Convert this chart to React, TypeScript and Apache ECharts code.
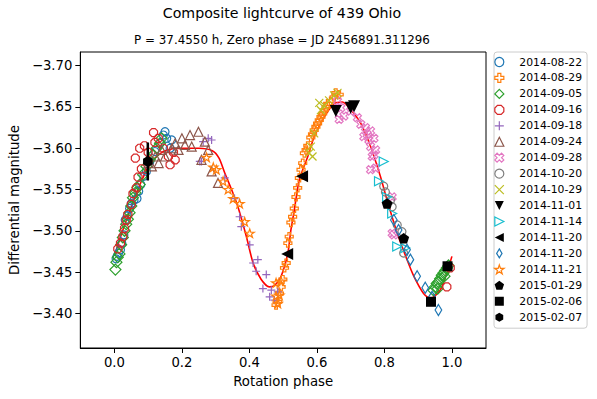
import { useEffect, useRef } from "react";
import * as echarts from "echarts";

const xTicks = [0, 0.2, 0.4, 0.6, 0.8, 1.0];
const yTicks = [-3.7, -3.65, -3.6, -3.55, -3.5, -3.45, -3.4];

const fitPhase = [0, 0.02, 0.04, 0.06, 0.08, 0.1, 0.12, 0.15, 0.2, 0.25, 0.29, 0.31, 0.327, 0.35, 0.366, 0.391, 0.411, 0.435, 0.459, 0.475, 0.494, 0.514, 0.523, 0.533, 0.548, 0.573, 0.592, 0.622, 0.651, 0.676, 0.7, 0.73, 0.759, 0.788, 0.808, 0.838, 0.867, 0.887, 0.916, 0.936, 0.965, 0.985, 1.0];
const fitMag = [-3.47, -3.495, -3.518, -3.54, -3.56, -3.577, -3.588, -3.597, -3.6, -3.6, -3.597, -3.588, -3.57, -3.547, -3.529, -3.493, -3.461, -3.441, -3.432, -3.434, -3.445, -3.473, -3.501, -3.525, -3.562, -3.59, -3.614, -3.638, -3.654, -3.656, -3.647, -3.63, -3.602, -3.566, -3.537, -3.497, -3.465, -3.445, -3.424, -3.418, -3.428, -3.449, -3.469];

const d0822 = [[0.005, -3.466], [0.008, -3.469], [0.012, -3.473], [0.018, -3.477], [0.022, -3.485], [0.028, -3.495], [0.032, -3.513], [0.038, -3.518], [0.045, -3.527], [0.05, -3.533], [0.058, -3.537], [0.067, -3.539], [0.072, -3.548], [0.078, -3.556], [0.087, -3.566], [0.095, -3.572], [0.105, -3.584], [0.12, -3.596], [0.135, -3.606], [0.145, -3.616], [0.15, -3.62], [0.155, -3.612], [0.17, -3.61], [0.165, -3.6]];
const d0829 = [[0.479, -3.41], [0.484, -3.414], [0.489, -3.424], [0.494, -3.432], [0.499, -3.441], [0.504, -3.455], [0.509, -3.461], [0.514, -3.485], [0.518, -3.493], [0.523, -3.51], [0.528, -3.517], [0.533, -3.527], [0.538, -3.541], [0.543, -3.552], [0.548, -3.564], [0.553, -3.574], [0.558, -3.582], [0.563, -3.594], [0.568, -3.598], [0.573, -3.603], [0.582, -3.613], [0.587, -3.617], [0.592, -3.622], [0.597, -3.626], [0.602, -3.63], [0.607, -3.634], [0.612, -3.638], [0.617, -3.642], [0.622, -3.646], [0.627, -3.65], [0.632, -3.654], [0.641, -3.657], [0.651, -3.662], [0.656, -3.667], [0.666, -3.665]];
const d0905 = [[0.003, -3.453], [0.006, -3.462], [0.01, -3.468], [0.015, -3.472], [0.02, -3.483], [0.025, -3.492], [0.03, -3.5], [0.035, -3.508], [0.04, -3.514], [0.045, -3.522], [0.05, -3.53], [0.055, -3.54], [0.062, -3.546], [0.068, -3.552], [0.075, -3.556], [0.085, -3.568], [0.095, -3.578], [0.105, -3.586], [0.115, -3.592], [0.125, -3.6], [0.135, -3.606], [0.14, -3.612], [0.945, -3.428], [0.95, -3.432], [0.955, -3.436], [0.96, -3.438], [0.965, -3.442], [0.97, -3.446], [0.975, -3.449], [0.98, -3.452], [0.985, -3.455], [0.99, -3.458], [0.978, -3.445], [0.958, -3.43]];
const d0916 = [[0.01, -3.478], [0.018, -3.485], [0.025, -3.493], [0.03, -3.503], [0.035, -3.513], [0.04, -3.52], [0.05, -3.532], [0.055, -3.545], [0.065, -3.552], [0.07, -3.565], [0.08, -3.575], [0.062, -3.588], [0.075, -3.6], [0.089, -3.603], [0.1, -3.595], [0.116, -3.619], [0.12, -3.607], [0.13, -3.612], [0.145, -3.6], [0.16, -3.59], [0.165, -3.58], [0.18, -3.586], [0.175, -3.595], [0.995, -3.455], [0.985, -3.432]];
const d0918 = [[0.253, -3.584], [0.263, -3.608], [0.278, -3.612], [0.288, -3.61], [0.258, -3.584], [0.327, -3.564], [0.356, -3.539], [0.371, -3.517], [0.376, -3.505], [0.401, -3.483], [0.411, -3.461], [0.425, -3.465], [0.42, -3.451], [0.45, -3.447], [0.44, -3.43], [0.465, -3.428], [0.46, -3.42], [0.474, -3.416], [0.484, -3.426]];
const d0924 = [[0.101, -3.582], [0.111, -3.578], [0.121, -3.59], [0.131, -3.582], [0.14, -3.598], [0.15, -3.59], [0.17, -3.6], [0.18, -3.606], [0.19, -3.598], [0.2, -3.612], [0.209, -3.604], [0.224, -3.616], [0.229, -3.602], [0.249, -3.62], [0.258, -3.586], [0.268, -3.608], [0.278, -3.598], [0.288, -3.572], [0.307, -3.558]];
const d0928 = [[0.661, -3.657], [0.671, -3.649], [0.666, -3.635], [0.68, -3.639], [0.7, -3.645], [0.72, -3.637], [0.73, -3.629], [0.744, -3.625], [0.749, -3.617], [0.759, -3.621], [0.739, -3.614], [0.754, -3.61], [0.769, -3.612], [0.759, -3.602], [0.764, -3.59], [0.774, -3.598], [0.759, -3.574], [0.774, -3.576], [0.769, -3.592], [0.823, -3.541], [0.828, -3.495], [0.823, -3.497]];
const d1020 = [[0.798, -3.554], [0.803, -3.547], [0.818, -3.537], [0.823, -3.529], [0.838, -3.507], [0.852, -3.499], [0.857, -3.473]];
const d1029 = [[0.577, -3.594], [0.582, -3.602], [0.587, -3.59], [0.592, -3.618], [0.607, -3.655], [0.612, -3.646], [0.622, -3.652], [0.636, -3.658], [0.651, -3.664], [0.661, -3.667]];
const d1101 = [[0.656, -3.645], [0.7, -3.649], [0.71, -3.651]];
const d1114 = [[0.798, -3.584], [0.784, -3.56], [0.808, -3.541], [0.823, -3.521], [0.838, -3.481], [0.862, -3.479]];
const d1120a = [[0.556, -3.566], [0.512, -3.472]];
const d1120b = [[0.828, -3.513], [0.842, -3.501], [0.867, -3.477], [0.877, -3.465], [0.897, -3.445], [0.921, -3.431], [0.941, -3.42], [0.96, -3.404]];
const d1121 = [[0.273, -3.589], [0.293, -3.577], [0.302, -3.574], [0.322, -3.56], [0.337, -3.55], [0.352, -3.539], [0.371, -3.533], [0.386, -3.511], [0.401, -3.497], [0.479, -3.437], [0.494, -3.439], [0.489, -3.422], [0.479, -3.421], [0.484, -3.412]];
const d0129 = [[0.808, -3.533], [0.857, -3.491]];
const d0206 = [[0.938, -3.414], [0.987, -3.457]];
const d0207 = [[0.099, -3.584]];
const d0207err = [0.023];

const SYM_CIRC = "path://M5,0A5,5,0,1,1,5,10A5,5,0,1,1,5,0Z";
const SYM_PLUSF = "path://M3.33,0H6.67V3.33H10V6.67H6.67V10H3.33V6.67H0V3.33H3.33Z";
const SYM_XF = "path://M4.24,0L5.66,1.41L4.24,2.83L5.66,4.24L4.24,5.66L2.83,4.24L1.41,5.66L0,4.24L1.41,2.83L0,1.41L1.41,0L2.83,1.41Z";
const SYM_OCT = "path://M2.93,0H7.07L10,2.93V7.07L7.07,10H2.93L0,7.07V2.93Z";
const SYM_PLUS = "path://M5,0V10M0,5H10";
const SYM_X = "path://M0,0L10,10M10,0L0,10";
const SYM_UP = "path://M5,0L10,10L0,10Z";
const SYM_DOWN = "path://M0,0L10,0L5,10Z";
const SYM_RIGHT = "path://M0,0L10,5L0,10Z";
const SYM_LEFT = "path://M10,0L0,5L10,10Z";
const SYM_DIAM = "path://M5,0L10,5L5,10L0,5Z";
const SYM_THIN = "path://M3,0L6,5L3,10L0,5Z";
const SYM_STAR = "path://M4.755,0L5.88,3.455L9.51,3.455L6.57,5.59L7.695,9.045L4.755,6.91L1.815,9.045L2.94,5.59L0,3.455L3.63,3.455Z";
const SYM_PENT = "path://M4.76,0L9.51,3.45L7.69,9.05L1.82,9.05L0,3.45Z";
const SYM_SQ = "path://M0,0H10V10H0Z";
const SYM_HEX = "path://M4.33,0L8.66,2.5L8.66,7.5L4.33,10L0,7.5L0,2.5Z";

const FONT = "DejaVu Sans";

type Spec = { name: string; data: number[][]; symbol: string; color: string; filled: boolean; size: number; legendSize: number };

const specs: Spec[] = [
  { name: "2014-08-22", data: d0822, symbol: "circle", color: "#1f77b4", filled: false, size: 8, legendSize: 8 },
  { name: "2014-08-29", data: d0829, symbol: SYM_PLUSF, color: "#ff7f0e", filled: false, size: 8, legendSize: 8 },
  { name: "2014-09-05", data: d0905, symbol: SYM_DIAM, color: "#2ca02c", filled: false, size: 11, legendSize: 10 },
  { name: "2014-09-16", data: d0916, symbol: SYM_OCT, color: "#d62728", filled: false, size: 8, legendSize: 8 },
  { name: "2014-09-18", data: d0918, symbol: SYM_PLUS, color: "#9467bd", filled: false, size: 8, legendSize: 8 },
  { name: "2014-09-24", data: d0924, symbol: SYM_UP, color: "#8c564b", filled: false, size: 9, legendSize: 8 },
  { name: "2014-09-28", data: d0928, symbol: SYM_XF, color: "#e377c2", filled: false, size: 8, legendSize: 8 },
  { name: "2014-10-20", data: d1020, symbol: "circle", color: "#7f7f7f", filled: false, size: 8, legendSize: 8 },
  { name: "2014-10-29", data: d1029, symbol: SYM_X, color: "#bcbd22", filled: false, size: 8, legendSize: 8 },
  { name: "2014-11-01", data: d1101, symbol: SYM_DOWN, color: "#000000", filled: true, size: 12, legendSize: 9 },
  { name: "2014-11-14", data: d1114, symbol: SYM_RIGHT, color: "#17becf", filled: false, size: 9, legendSize: 8 },
  { name: "2014-11-20", data: d1120a, symbol: SYM_LEFT, color: "#000000", filled: true, size: 12, legendSize: 9 },
  { name: "2014-11-20#2", data: d1120b, symbol: SYM_THIN, color: "#1f77b4", filled: false, size: 11, legendSize: 10 },
  { name: "2014-11-21", data: d1121, symbol: SYM_STAR, color: "#ff7f0e", filled: false, size: 9, legendSize: 8 },
  { name: "2015-01-29", data: d0129, symbol: SYM_PENT, color: "#000000", filled: true, size: 11, legendSize: 8 },
  { name: "2015-02-06", data: d0206, symbol: SYM_SQ, color: "#000000", filled: true, size: 10, legendSize: 8 },
  { name: "2015-02-07", data: d0207, symbol: SYM_HEX, color: "#000000", filled: true, size: 11, legendSize: 8 },
];

const fmtY = (v: number) => (v < 0 ? "\u2212" : "") + Math.abs(v).toFixed(2);

export default function App() {
  const ref = useRef<HTMLDivElement>(null);
  useEffect(() => {
    if (!ref.current) return;
    const chart = echarts.init(ref.current, undefined, { renderer: "svg" });
    const scatterSeries = specs.map((s) => ({
      type: "scatter",
      name: s.name,
      data: s.data,
      symbol: s.symbol,
      symbolSize: s.size,
      symbolKeepAspect: true,
      z: 3,
      itemStyle: s.filled
        ? { color: s.color, borderColor: s.color, borderWidth: 0, opacity: 1 }
        : { color: "rgba(0,0,0,0)", borderColor: s.color, borderWidth: 1.2, opacity: 1 },
      emphasis: { disabled: true },
    }));
    const errData = d0207.flatMap((p, i) => [[p[0], p[1] - d0207err[i]], [p[0], p[1] + d0207err[i]]]);
    const option: any = {
      animation: false,
      textStyle: { fontFamily: FONT },
      grid: { left: 78, right: 111, top: 52, bottom: 51, show: true, borderColor: "#000", borderWidth: 1, backgroundColor: "transparent" },
      graphic: [
        { type: "text", x: 282, y: 13, style: { text: "Composite lightcurve of 439 Ohio", fontSize: 14.2, fontFamily: FONT, fill: "#000", align: "center", verticalAlign: "middle" } },
        { type: "text", x: 282, y: 40, style: { text: "P = 37.4550 h, Zero phase = JD 2456891.311296", fontSize: 11.9, fontFamily: FONT, fill: "#000", align: "center", verticalAlign: "middle" } },
      ],
      legend: {
        orient: "vertical",
        left: 494,
        top: 52,
        padding: [4, 5, 5, 0],
        itemWidth: 30,
        itemHeight: 9,
        itemGap: 3.95,
        selectedMode: false,
        backgroundColor: "#fff",
        borderColor: "#cccccc",
        borderWidth: 1,
        borderRadius: 3,
        symbolKeepAspect: true,
        textStyle: { fontSize: 10.8, color: "#000", fontFamily: FONT, lineHeight: 12 },
        formatter: (n: string) => n.split("#")[0],
        data: specs.map((s) => ({
          name: s.name,
          icon: s.symbol === "circle" ? "circle" : s.symbol,
          itemStyle: s.filled
            ? { color: s.color, borderColor: s.color, borderWidth: 0 }
            : { color: "rgba(0,0,0,0)", borderColor: s.color, borderWidth: 1.2 },
        })),
      },
      xAxis: {
        type: "value",
        min: -0.101,
        max: 1.101,
        name: "Rotation phase",
        nameLocation: "middle",
        nameGap: 27,
        nameTextStyle: { fontSize: 13.3, color: "#000", fontFamily: FONT },
        splitLine: { show: false },
        axisLine: { show: true, onZero: false, lineStyle: { color: "#000", width: 1 } },
        axisTick: { show: true, length: 5, lineStyle: { color: "#000" }, customValues: xTicks },
        axisLabel: { color: "#000", fontSize: 13.2, margin: 8, fontFamily: FONT, customValues: xTicks, formatter: (v: number) => v.toFixed(1) },
      },
      yAxis: {
        type: "value",
        inverse: true,
        min: -3.7166,
        max: -3.358,
        name: "Differential magnitude",
        nameLocation: "middle",
        nameGap: 53,
        nameTextStyle: { fontSize: 13.3, color: "#000", fontFamily: FONT },
        splitLine: { show: false },
        axisLine: { show: true, onZero: false, lineStyle: { color: "#000", width: 1 } },
        axisTick: { show: true, length: 5, lineStyle: { color: "#000" }, customValues: yTicks },
        axisLabel: { color: "#000", fontSize: 13.2, margin: 8, fontFamily: FONT, customValues: yTicks, formatter: fmtY },
      },
      series: [
        {
          type: "line",
          name: "fit",
          data: fitPhase.map((p, i) => [p, fitMag[i]]),
          smooth: 0.25,
          showSymbol: false,
          symbol: "none",
          z: 2,
          lineStyle: { color: "#ff0000", width: 1.6 },
          emphasis: { disabled: true },
        },
        {
          type: "line",
          name: "err",
          data: errData,
          showSymbol: false,
          symbol: "none",
          z: 4,
          lineStyle: { color: "#000", width: 2.5 },
          emphasis: { disabled: true },
        },
        ...scatterSeries,
      ],
    };
    chart.setOption(option);
    return () => chart.dispose();
  }, []);
  return <div ref={ref} style={{ width: 597, height: 399, position: "absolute", left: 0, top: 0 }} />;
}
